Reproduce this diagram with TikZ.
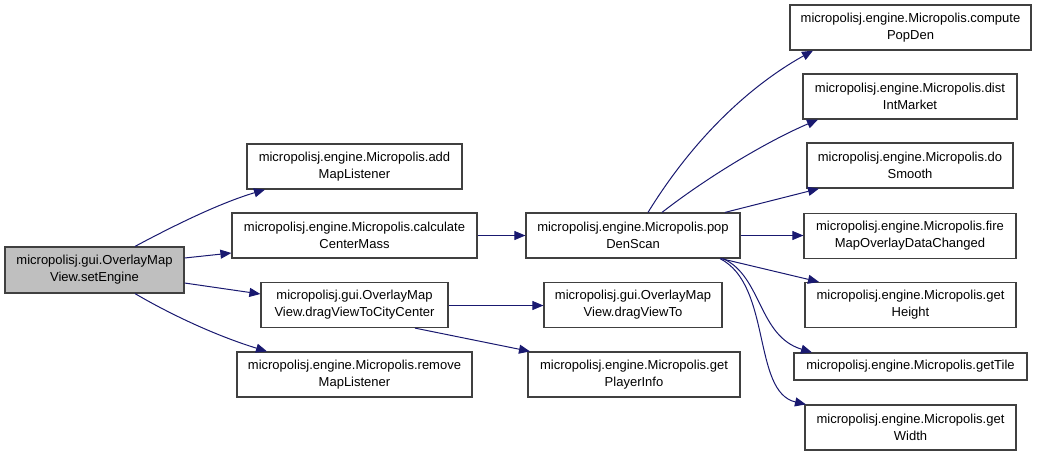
\documentclass[tikz,border=0pt]{standalone}
\usepackage{fontspec}
\setmainfont{Liberation Sans}
\usepackage{xcolor}
\usepackage{tikz}
\usetikzlibrary{arrows.meta}
\definecolor{edgeblue}{HTML}{191970}
\definecolor{rootgray}{HTML}{BFBFBF}
\definecolor{boxline}{HTML}{404040}

\begin{document}
\begin{tikzpicture}[x=1pt, y=-1pt,
  font=\fontsize{13}{17}\selectfont,
  fn/.style={draw=boxline, line width=1.2pt, align=center, inner sep=0pt, minimum height=45pt},
  arr/.style={-{Triangle[length=11pt, width=9pt]}, color=edgeblue, line width=1pt}]
\useasboundingbox (0,0) rectangle (1037,456);
\node[fn, fill=rootgray, minimum width=179pt, minimum height=46pt] (se) at (94.5,270) {micropolisj.gui.OverlayMap\\View.setEngine};
\node[fn, minimum width=215pt] (add) at (354.5,166.5) {micropolisj.engine.Micropolis.add\\MapListener};
\node[fn, minimum width=245pt] (calc) at (354.5,235.5) {micropolisj.engine.Micropolis.calculate\\CenterMass};
\node[fn, minimum width=187pt] (dvc) at (354.5,305) {micropolisj.gui.OverlayMap\\View.dragViewToCityCenter};
\node[fn, minimum width=235pt] (rem) at (354.5,374.5) {micropolisj.engine.Micropolis.remove\\MapListener};
\node[fn, minimum width=214pt] (pds) at (633,235.5) {micropolisj.engine.Micropolis.pop\\DenScan};
\node[fn, minimum width=178pt] (dvt) at (633,305) {micropolisj.gui.OverlayMap\\View.dragViewTo};
\node[fn, minimum width=212pt] (gpi) at (634,374.5) {micropolisj.engine.Micropolis.get\\PlayerInfo};
\node[fn, minimum width=241pt] (cpd) at (910.5,27.5) {micropolisj.engine.Micropolis.compute\\PopDen};
\node[fn, minimum width=214pt] (dim) at (910,96.5) {micropolisj.engine.Micropolis.dist\\IntMarket};
\node[fn, minimum width=206pt] (dsm) at (910,165.5) {micropolisj.engine.Micropolis.do\\Smooth};
\node[fn, minimum width=212pt] (fmo) at (910,236) {micropolisj.engine.Micropolis.fire\\MapOverlayDataChanged};
\node[fn, minimum width=211pt] (gh) at (910.5,305) {micropolisj.engine.Micropolis.get\\Height};
\node[fn, minimum width=233pt, minimum height=27pt] (gt) at (910.5,366.5) {micropolisj.engine.Micropolis.getTile};
\node[fn, minimum width=211pt] (gw) at (910.5,427.5) {micropolisj.engine.Micropolis.get\\Width};
% calls from setEngine
\draw[arr] (se.north -| 135,0) .. controls (175,225) and (220,203) .. (add.south -| 265,0);
\draw[arr] (se.east |- 0,258) -- (calc.west |- 0,253);
\draw[arr] (se.east |- 0,283) -- (dvc.west |- 0,294);
\draw[arr] (se.south -| 135,0) .. controls (175,317) and (220,337) .. (rem.north -| 267,0);
\draw[arr] (calc.east |- 0,235.5) -- (pds.west |- 0,235.5);
\draw[arr] (dvc.east |- 0,305.5) -- (dvt.west |- 0,305.5);
\draw[arr] (dvc.south -| 415,0) -- (gpi.north -| 530,0);
% calls from popDenScan
\draw[arr] (pds.north -| 648,0) .. controls (700,128) and (760,80) .. (cpd.south -| 813,0);
\draw[arr] (pds.north -| 662,0) .. controls (710,175) and (770,140) .. (dim.south -| 818,0);
\draw[arr] (pds.north -| 725,0) -- (dsm.south -| 819,0);
\draw[arr] (pds.east |- 0,235.5) -- (fmo.west |- 0,235.5);
\draw[arr] (pds.south -| 721,0) -- (gh.north -| 819,0);
\draw[arr] (pds.south -| 723,0) .. controls (762,276) and (758,336) .. (gt.north -| 812,0);
\draw[arr] (pds.south -| 720,0) .. controls (772,285) and (752,392) .. (gw.north -| 806,0);
\end{tikzpicture}
\end{document}
